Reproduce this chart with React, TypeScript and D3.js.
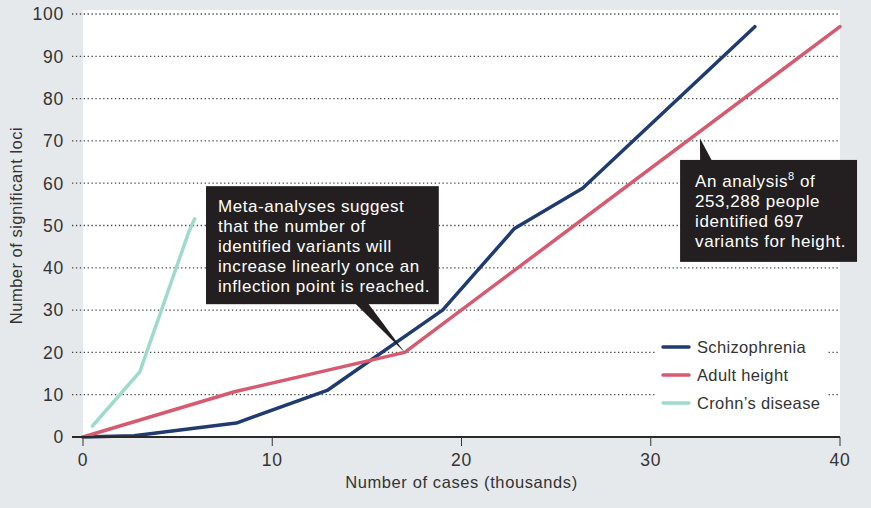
import React from 'react';
import * as d3 from 'd3';

type Pt = [number, number];

const schizophrenia: Pt[] = [
  [0, 0], [2.7, 0.3], [8.1, 3.3], [12.9, 11], [19, 30], [22.8, 49.3], [26.4, 58.8], [35.5, 97],
];
const adultHeight: Pt[] = [
  [0, 0], [8, 10.7], [17, 20], [40, 97],
];
const crohns: Pt[] = [
  [0.5, 2.6], [3, 15.4], [5.6, 48.6], [5.9, 51.6],
];

const xTicks = [0, 10, 20, 30, 40];
const yTicks = [0, 10, 20, 30, 40, 50, 60, 70, 80, 90, 100];

const seriesNames = ['Schizophrenia', 'Adult height', 'Crohn\u2019s disease'];
const seriesColors = ['#1f3b70', '#d65a70', '#9fdbcc'];

const note1 = [
  'Meta-analyses suggest',
  'that the number of',
  'identified variants will',
  'increase linearly once an',
  'inflection point is reached.',
];
const note2 = ['253,288 people', 'identified 697', 'variants for height.'];

const W = 871;
const H = 508;
const FONT = '"Liberation Sans", Arial, sans-serif';
const TEXT = '#333';

export default function App() {
  const x = d3.scaleLinear().domain([0, 40]).range([83, 840]);
  const y = d3.scaleLinear().domain([0, 100]).range([437, 14]);
  const line = d3.line<Pt>().x(d => x(d[0])).y(d => y(d[1]));
  const series = [schizophrenia, adultHeight, crohns];

  // annotation boxes in data space
  const b1 = { x0: x(6.5), x1: x(18.8), y0: y(59.3), y1: y(31.4) };
  const b2 = { x0: x(31.55), x1: x(40.9), y0: y(65.5), y1: y(41.4) };
  const tip1: Pt = [17, 20];
  const tip2: Pt = [32.6, 70.6];

  const legendX = 663;
  const legendY = [347, 375, 403];

  return (
    <svg width={W} height={H} style={{ position: 'absolute', left: 0, top: 0, fontFamily: FONT }}>
      <rect x={0} y={0} width={W} height={H} fill="#e6e9ec" />
      <rect x={x(0)} y={10} width={x(40) - x(0)} height={y(0) - 10} fill="#fff" />

      {/* grid */}
      {yTicks.filter(t => t > 0).map(t => (
        <line key={t} x1={72} x2={x(40)} y1={y(t)} y2={y(t)}
          stroke="#444" strokeWidth={1.3} strokeDasharray="1.3,2.6" />
      ))}

      {/* y labels */}
      {yTicks.map(t => (
        <text key={t} x={64} y={y(t)} dy="0.36em" textAnchor="end" fontSize={17.5}
          letterSpacing={0.8} fill={TEXT}>{t}</text>
      ))}
      <text transform={`translate(22,${(y(0) + y(100)) / 2}) rotate(-90)`} textAnchor="middle"
        fontSize={16.5} letterSpacing={0.5} fill={TEXT}>Number of significant loci</text>

      {/* legend background */}
      <rect x={655} y={333} width={171} height={84} fill="#fff" />
      {seriesNames.map((n, i) => (
        <g key={n}>
          <line x1={legendX} x2={legendX + 26} y1={legendY[i]} y2={legendY[i]}
            stroke={seriesColors[i]} strokeWidth={3.5} strokeLinecap="round" />
          <text x={legendX + 34} y={legendY[i]} dy="0.36em" fontSize={16.5}
            letterSpacing={0.35} fill={TEXT}>{n}</text>
        </g>
      ))}

      {/* lines */}
      {series.map((s, i) => (
        <path key={i} d={line(s) || ''} fill="none" stroke={seriesColors[i]} strokeWidth={3.5}
          strokeLinejoin="round" strokeLinecap="round" />
      ))}

      {/* x axis */}
      <line x1={72} x2={x(40)} y1={y(0)} y2={y(0)} stroke="#2a2a2a" strokeWidth={2.2} />
      {xTicks.map(t => (
        <g key={t}>
          <line x1={x(t)} x2={x(t)} y1={y(0)} y2={y(0) + 9} stroke="#333" strokeWidth={1} />
          <text x={x(t)} y={466} textAnchor="middle" fontSize={17.5} letterSpacing={0.8} fill={TEXT}>{t}</text>
        </g>
      ))}
      <text x={x(20)} y={488} textAnchor="middle" fontSize={16.5} letterSpacing={0.6}
        fill={TEXT}>Number of cases (thousands)</text>

      {/* annotation 1 */}
      <path d={`M${b1.x0 + 149},${b1.y1 - 1} L${b1.x0 + 162},${b1.y1 - 1} L${x(tip1[0])},${y(tip1[1])} Z`} fill="#231f20" />
      <rect x={b1.x0} y={b1.y0} width={b1.x1 - b1.x0} height={b1.y1 - b1.y0} fill="#231f20" />
      {note1.map((t, i) => (
        <text key={i} x={b1.x0 + 12} y={b1.y0 + 26 + i * 20} fontSize={17} letterSpacing={0.55}
          fill="#fff">{t}</text>
      ))}

      {/* annotation 2 */}
      <path d={`M${b2.x0 + 20},${b2.y0 + 1} L${b2.x0 + 32},${b2.y0 + 1} L${x(tip2[0])},${y(tip2[1])} Z`} fill="#231f20" />
      <rect x={b2.x0} y={b2.y0} width={b2.x1 - b2.x0} height={b2.y1 - b2.y0} fill="#231f20" />
      <text x={b2.x0 + 15} y={b2.y0 + 27} fontSize={17} letterSpacing={0.55} fill="#fff">
        An analysis<tspan fontSize={11} dy={-7}>8</tspan><tspan dy={7}> of</tspan>
      </text>
      {note2.map((t, i) => (
        <text key={i} x={b2.x0 + 15} y={b2.y0 + 47 + i * 20} fontSize={17} letterSpacing={0.55}
          fill="#fff">{t}</text>
      ))}
    </svg>
  );
}
